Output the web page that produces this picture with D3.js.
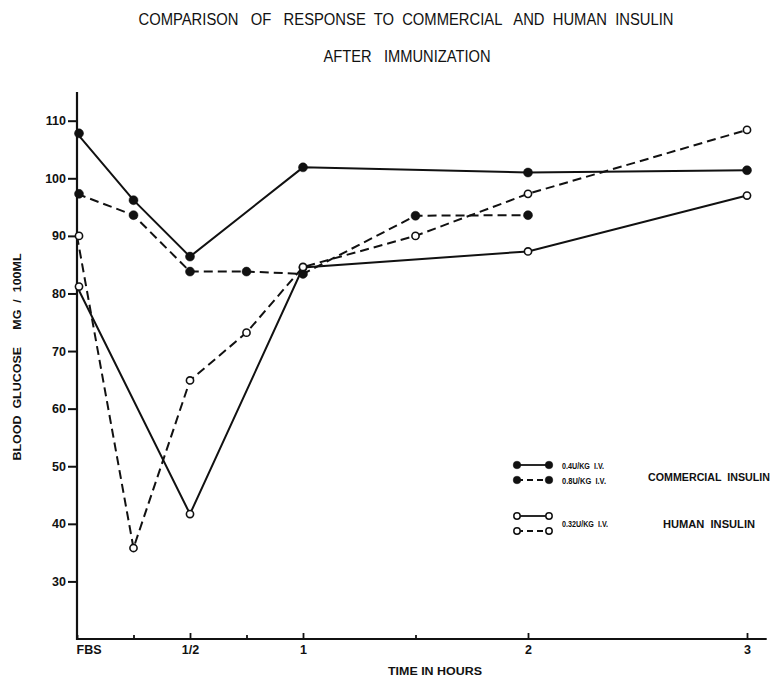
<!DOCTYPE html>
<html>
<head>
<meta charset="utf-8">
<script src="https://cdn.jsdelivr.net/npm/d3@7"></script>
<style>
  body { margin: 0; background: #fff; }
  svg { display: block; }
  text { fill: #111; white-space: pre; }
</style>
</head>
<body>
<div id="svg-container"></div>
<script>
// data (hours after injection, blood glucose mg/100ml)
const hours04 = [0, 0.25, 0.5, 1, 2, 3]
const values04 = [107.8, 96.2, 86.4, 101.9, 101.0, 101.4]

const hours08 = [0, 0.25, 0.5, 0.75, 1, 1.5, 2]
const values08 = [97.3, 93.6, 83.8, 83.8, 83.4, 93.5, 93.6]

const hoursHumanSolid = [0, 0.5, 1, 2, 3]
const valuesHumanSolid = [81.2, 41.7, 84.5, 87.3, 97.0]

const hoursHumanDashed = [0, 0.25, 0.5, 0.75, 1, 1.5, 2, 3]
const valuesHumanDashed = [90.0, 35.8, 64.9, 73.2, 84.6, 90.0, 97.3, 108.4]

const yTicks = [30, 40, 50, 60, 70, 80, 90, 100, 110]
const xTicks = [0, 0.25, 0.5, 0.75, 1, 1.5, 2, 3]
const xTickLabels = { 0: 'FBS', 0.5: '1/2', 1: '1', 2: '2', 3: '3' }

const legendItems = [
    { filled: true, dashed: false },
    { filled: true, dashed: true },
    { filled: false, dashed: false },
    { filled: false, dashed: true }
]
const doseLabels = ['0.4U/KG  I.V.', '0.8U/KG  I.V.', '0.32U/KG  I.V.']
const groupLabels = ['COMMERCIAL  INSULIN', 'HUMAN  INSULIN']

const width = 771
const height = 678
const font = 'Liberation Sans, Arial, sans-serif'

const svg = d3.select('#svg-container')
    .append('svg').attr('width', width).attr('height', height)

// hand drawn axis, spacing per hour is a bit uneven
const xScale = d3.scaleLinear()
    .domain([0, 1, 2, 3])
    .range([77, 303, 528, 747])
const yScale = d3.scaleLinear()
    .domain([20, 110])
    .range([639, 120.7])

// titel
svg.append('text')
    .attr('x', 406).attr('y', 25)
    .attr('text-anchor', 'middle')
    .attr('font-family', 'Liberation Sans Narrow, Liberation Sans, sans-serif')
    .attr('font-size', 16)
    .attr('textLength', 535).attr('lengthAdjust', 'spacingAndGlyphs')
    .text('COMPARISON   OF   RESPONSE  TO  COMMERCIAL   AND  HUMAN  INSULIN')
svg.append('text')
    .attr('x', 407).attr('y', 61.5)
    .attr('text-anchor', 'middle')
    .attr('font-family', 'Liberation Sans Narrow, Liberation Sans, sans-serif')
    .attr('font-size', 16)
    .attr('textLength', 167).attr('lengthAdjust', 'spacingAndGlyphs')
    .text('AFTER   IMMUNIZATION')

// y as
const yAxis = svg.append('g')
    .attr('transform', `translate(${xScale(0)}, 0)`)
    .call(d3.axisLeft(yScale).tickValues(yTicks).tickSize(9).tickPadding(2))
yAxis.select('.domain').remove()
yAxis.selectAll('line').attr('stroke', '#111').attr('stroke-width', 2)
yAxis.selectAll('text')
    .attr('font-family', font)
    .attr('font-weight', 'bold').attr('font-size', 12.5)
svg.append('line')
    .attr('x1', xScale(0)).attr('x2', xScale(0))
    .attr('y1', yScale(115)).attr('y2', yScale(20) + 1)
    .attr('stroke', '#111').attr('stroke-width', 2.2)

// x as, kleine streepjes naar boven
const xAxis = svg.append('g')
    .attr('transform', `translate(0, ${yScale(20)})`)
    .call(d3.axisBottom(xScale).tickValues(xTicks).tickSize(-4).tickPadding(6)
        .tickFormat(d => xTickLabels[d] || ''))
xAxis.select('.domain').remove()
xAxis.selectAll('line').attr('stroke', '#111').attr('stroke-width', 1.8)
    .attr('y2', d => (d === 0.5 || d === 1 || d === 2 || d === 3) ? -6 : -4)
xAxis.selectAll('text')
    .attr('font-family', font)
    .attr('font-weight', 'bold').attr('font-size', 12.5)
    .attr('text-anchor', d => d === 0 ? 'start' : 'middle')
    .attr('x', d => d === 0 ? -1 : 0)
svg.append('line')
    .attr('x1', xScale(0)).attr('x2', xScale(3.09))
    .attr('y1', yScale(20)).attr('y2', yScale(20))
    .attr('stroke', '#111').attr('stroke-width', 2.2)

// as titels
svg.append('text')
    .attr('x', 435).attr('y', 674.5)
    .attr('text-anchor', 'middle')
    .attr('font-family', font)
    .attr('font-weight', 'bold').attr('font-size', 11)
    .attr('textLength', 94).attr('lengthAdjust', 'spacingAndGlyphs')
    .text('TIME IN HOURS')
svg.append('text')
    .attr('transform', 'translate(20.5, 357) rotate(-90)')
    .attr('text-anchor', 'middle')
    .attr('font-family', font)
    .attr('font-weight', 'bold').attr('font-size', 11)
    .attr('textLength', 207).attr('lengthAdjust', 'spacingAndGlyphs')
    .text('BLOOD  GLUCOSE     MG  /  100ML')

// lijnen en punten per serie
const series = [
    { xs: hours04, ys: values04, filled: true, dashed: false },
    { xs: hours08, ys: values08, filled: true, dashed: true },
    { xs: hoursHumanSolid, ys: valuesHumanSolid, filled: false, dashed: false },
    { xs: hoursHumanDashed, ys: valuesHumanDashed, filled: false, dashed: true }
]

const line = d3.line()
    .x(d => xScale(d[0]))
    .y(d => yScale(d[1]))

const plot = svg.append('g')
series.forEach(s => {
    const pts = s.xs.map((h, i) => [h, s.ys[i]])
    plot.append('path')
        .datum(pts)
        .attr('d', line)
        .attr('fill', 'none')
        .attr('stroke', '#111')
        .attr('stroke-width', 2)
        .attr('stroke-dasharray', s.dashed ? '9,5' : null)
})
series.forEach(s => {
    const pts = s.xs.map((h, i) => [h, s.ys[i]])
    plot.selectAll(null).data(pts)
        .enter().append('circle')
        .attr('cx', d => xScale(d[0]) + (d[0] === 0 ? 2 : 0))
        .attr('cy', d => yScale(d[1]))
        .attr('r', s.filled ? 4.5 : 3.6)
        .attr('fill', s.filled ? '#111' : '#fff')
        .attr('stroke', '#111')
        .attr('stroke-width', s.filled ? 0.5 : 1.6)
})

// legenda
const legendY = [465, 480, 516, 531]
const legend = svg.append('g')
legendItems.forEach((item, i) => {
    const y = legendY[i]
    legend.append('line')
        .attr('x1', 517).attr('x2', 549)
        .attr('y1', y).attr('y2', y)
        .attr('stroke', '#111').attr('stroke-width', 1.8)
        .attr('stroke-dasharray', item.dashed ? '6,4' : null)
    legend.selectAll(null).data([517, 549])
        .enter().append('circle')
        .attr('cx', d => d).attr('cy', y)
        .attr('r', item.filled ? 3.8 : 3.2)
        .attr('fill', item.filled ? '#111' : '#fff')
        .attr('stroke', '#111').attr('stroke-width', item.filled ? 0.5 : 1.5)
})
const doseY = [468.5, 483.5, 527]
const doseLen = [42, 44, 46]
legend.selectAll(null).data(doseLabels)
    .enter().append('text')
    .attr('x', 562).attr('y', (d, i) => doseY[i])
    .attr('font-family', font)
    .attr('font-weight', 'bold').attr('font-size', 9.5)
    .attr('textLength', (d, i) => doseLen[i]).attr('lengthAdjust', 'spacingAndGlyphs')
    .text(d => d)
const groupX = [648, 663]
const groupY = [480.5, 527.5]
const groupLen = [122, 92]
legend.selectAll(null).data(groupLabels)
    .enter().append('text')
    .attr('x', (d, i) => groupX[i]).attr('y', (d, i) => groupY[i])
    .attr('font-family', font)
    .attr('font-weight', 'bold').attr('font-size', 10)
    .attr('textLength', (d, i) => groupLen[i]).attr('lengthAdjust', 'spacingAndGlyphs')
    .text(d => d)
</script>
</body>
</html>
